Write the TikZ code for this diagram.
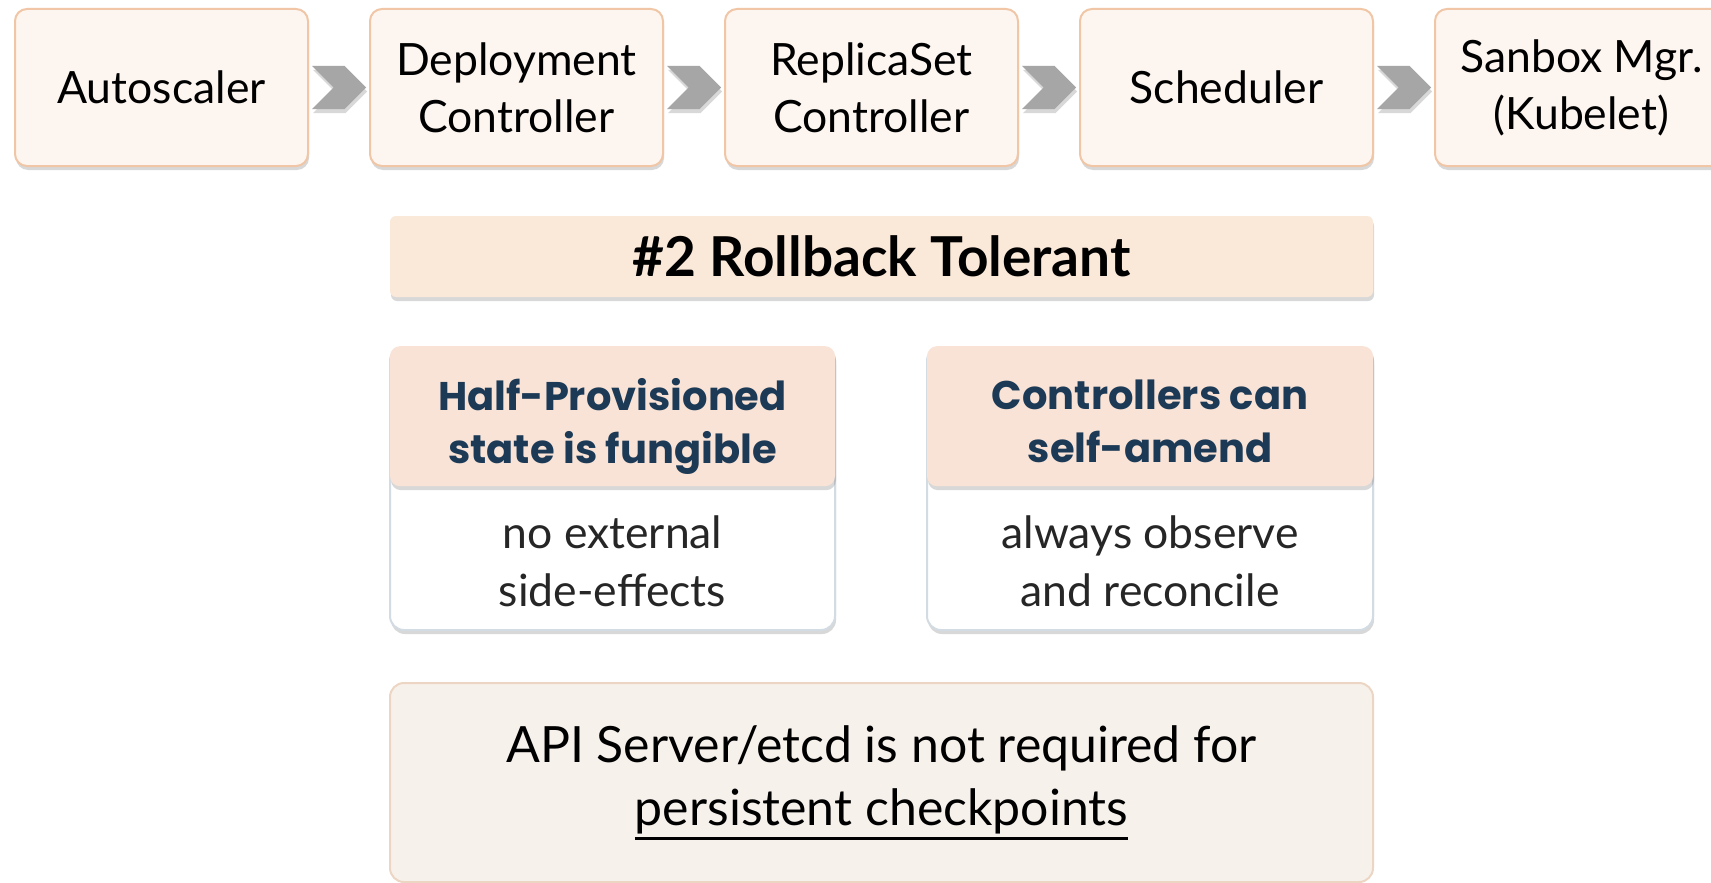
\documentclass[tikz,border=0pt]{standalone}
\usepackage{fontspec}
\setmainfont{Lato}
\newfontfamily\headfont{Poppins}
\newcommand\thickul[1]{\setbox0=\hbox{#1}\leavevmode\rlap{\vrule height -12pt depth 14.5pt width \wd0}\box0}
\usetikzlibrary{positioning,calc,shapes.symbols,shadows}
\definecolor{stagefill}{HTML}{FDF6F0}
\definecolor{stageline}{HTML}{F0C6A6}
\definecolor{chevgray}{HTML}{A6A6A6}
\definecolor{bannerfill}{HTML}{FAE8D8}
\definecolor{headfill}{HTML}{F9E3D6}
\definecolor{headtext}{HTML}{1C3A56}
\definecolor{cardline}{HTML}{D3DBE3}
\definecolor{footfill}{HTML}{F7F1EC}
\definecolor{footline}{HTML}{ECD5C3}
\begin{document}
\begin{tikzpicture}[
    x=1pt,y=-1pt,
    node distance=60pt,
    shade/.style={drop shadow={opacity=.3,shadow xshift=1pt,shadow yshift=-4pt}},
    stage/.style={draw=stageline,line width=2pt,fill=stagefill,rounded corners=12pt,minimum width=293pt,minimum height=157pt,align=center,font=\fontsize{44.5}{57}\selectfont,shade},
    chevron/.style={signal,signal from=west,signal to=east,signal pointer angle=90,fill=chevgray,minimum width=54pt,minimum height=43pt,inner sep=0pt,shade},
    banner/.style={fill=bannerfill,rounded corners=6pt,minimum width=983pt,minimum height=81pt,font=\bfseries\fontsize{55}{60}\selectfont,shade},
    card/.style={draw=cardline,line width=2pt,fill=white,rounded corners=14pt,minimum height=283pt,shade},
    cardhead/.style={fill=headfill,rounded corners=10pt,minimum height=140pt,shade},
    headlabel/.style={align=center,text=headtext,font=\headfont\bfseries\fontsize{40}{53}\selectfont},
    cardnote/.style={align=center,text=black!85,font=\fontsize{44.5}{58}\selectfont},
    foot/.style={draw=footline,line width=2pt,fill=footfill,rounded corners=14pt,minimum width=983pt,minimum height=199pt,align=center,font=\fontsize{50}{63}\selectfont}
]
\fill[white] (0,0) rectangle (1711,883);
\useasboundingbox (0,0) rectangle (1711,883);
\node[stage] (autoscaler) at (161.5,87.5) {Autoscaler};
\node[stage,right=of autoscaler] (deployctl) {Deployment\\Controller};
\node[stage,right=of deployctl] (replicactl) {ReplicaSet\\Controller};
\node[stage,right=of replicactl] (scheduler) {Scheduler};
\node[stage,right=of scheduler] (sandboxmgr) {Sanbox Mgr.\\(Kubelet)};
\foreach \a/\b in {autoscaler/deployctl,deployctl/replicactl,replicactl/scheduler,scheduler/sandboxmgr}
  \node[chevron] (chev-\a) at ($(\a.east)!.5!(\b.west)$) {};
\node[banner] (rollback) at (881.5,256.5) {\#2 Rollback Tolerant};
\node[card,minimum width=445pt] (fungcard) at (612.5,488.5) {};
\node[cardhead,minimum width=445pt,anchor=north] (funghead) at (fungcard.north) {};
\node[headlabel] (funglabel) at ([yshift=-10pt]funghead.center) {Half-Provisioned\\state is fungible};
\node[cardnote] (fungnote) at ([yshift=-3pt]$(funghead.south)!.5!(fungcard.south)$) {no external\\side-effects};
\node[card,minimum width=446pt] (amendcard) at (1150,488.5) {};
\node[cardhead,minimum width=446pt,anchor=north] (amendhead) at (amendcard.north) {};
\node[headlabel] (amendlabel) at ([yshift=-5pt]amendhead.center) {Controllers can\\self-amend};
\node[cardnote] (amendnote) at ([yshift=-3pt]$(amendhead.south)!.5!(amendcard.south)$) {always observe\\and reconcile};
\node[foot] (apinote) at (881.5,782.5) {API Server/etcd is not required for\\\thickul{persistent checkpoints}};
\end{tikzpicture}
\end{document}
